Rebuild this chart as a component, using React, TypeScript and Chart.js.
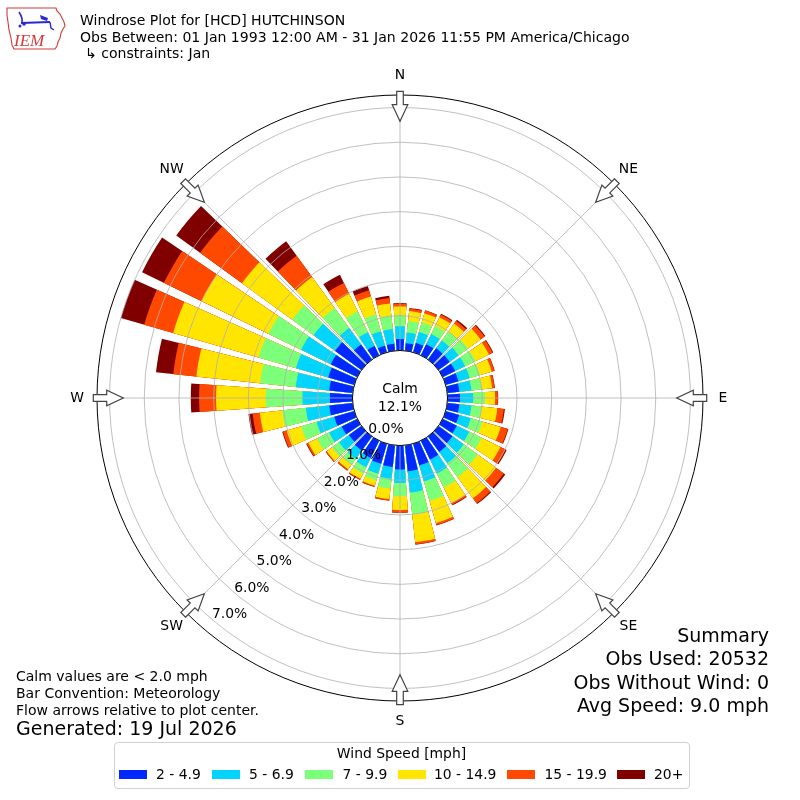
import React, { useEffect, useRef } from "react";
import { Chart, registerables } from "chart.js";

Chart.register(...registerables);

// ---------------- data ----------------
const DIRECTIONS_DEG = [0, 10, 20, 30, 40, 50, 60, 70, 80, 90, 100, 110, 120, 130, 140, 150, 160, 170, 180, 190, 200, 210, 220, 230, 240, 250, 260, 270, 280, 290, 300, 310, 320, 330, 340, 350];

const SPEED_BINS = ["2 - 4.9", "5 - 6.9", "7 - 9.9", "10 - 14.9", "15 - 19.9", "20+"];
const BIN_COLORS = ["#0028ff", "#00d4ff", "#7cff79", "#ffe500", "#ff4800", "#800000"];

// frequency [%] per direction for every speed bin
const PCT_2_5 = [0.33, 0.22, 0.28, 0.35, 0.40, 0.40, 0.40, 0.38, 0.35, 0.36, 0.35, 0.40, 0.45, 0.50, 0.55, 0.60, 0.65, 0.75, 0.69, 0.63, 0.60, 0.55, 0.50, 0.45, 0.50, 0.60, 0.68, 0.65, 0.68, 0.78, 0.85, 0.94, 0.54, 0.30, 0.20, 0.20];
const PCT_5_7 = [0.37, 0.31, 0.33, 0.33, 0.28, 0.32, 0.32, 0.34, 0.35, 0.38, 0.35, 0.35, 0.40, 0.40, 0.40, 0.45, 0.48, 0.62, 0.39, 0.34, 0.30, 0.30, 0.30, 0.35, 0.40, 0.53, 0.68, 0.79, 0.97, 0.97, 0.95, 0.77, 0.58, 0.44, 0.43, 0.43];
const PCT_7_10 = [0.32, 0.33, 0.29, 0.26, 0.32, 0.33, 0.33, 0.31, 0.30, 0.34, 0.30, 0.35, 0.40, 0.50, 0.50, 0.45, 0.58, 0.63, 0.38, 0.29, 0.20, 0.20, 0.20, 0.25, 0.39, 0.46, 0.68, 1.06, 1.03, 1.12, 1.05, 0.76, 0.72, 0.67, 0.51, 0.39];
const PCT_10_15 = [0.25, 0.29, 0.27, 0.28, 0.28, 0.45, 0.43, 0.35, 0.30, 0.29, 0.45, 0.55, 0.60, 0.65, 0.75, 0.50, 0.67, 0.81, 0.40, 0.30, 0.16, 0.17, 0.17, 0.19, 0.28, 0.44, 0.65, 1.43, 1.85, 2.56, 2.15, 1.79, 1.10, 0.56, 0.53, 0.35];
const PCT_15_20 = [0.08, 0.07, 0.08, 0.09, 0.10, 0.14, 0.12, 0.08, 0.07, 0.08, 0.19, 0.21, 0.17, 0.28, 0.18, 0.05, 0.06, 0.06, 0.07, 0.04, 0.03, 0.03, 0.04, 0.03, 0.05, 0.11, 0.21, 0.49, 0.67, 0.87, 1.20, 1.49, 0.76, 0.35, 0.19, 0.16];
const PCT_20_UP = [0.02, 0.02, 0.01, 0.02, 0.04, 0.03, 0.02, 0.01, 0.01, 0.01, 0.03, 0.02, 0.03, 0.05, 0.03, 0.02, 0.01, 0.01, 0.01, 0.01, 0.01, 0.01, 0.01, 0.01, 0.02, 0.02, 0.12, 0.24, 0.50, 0.70, 0.70, 0.85, 0.51, 0.26, 0.13, 0.06];

const CALM_PCT = 12.1;
const RING_TICKS = [0, 1, 2, 3, 4, 5, 6, 7];
const COMPASS_LABELS = ["N", "NE", "E", "SE", "S", "SW", "W", "NW"];
const COMPASS_DEG = [0, 45, 90, 135, 180, 225, 270, 315];

const TITLE_LINES = [
  "Windrose Plot for [HCD] HUTCHINSON",
  "Obs Between: 01 Jan 1993 12:00 AM - 31 Jan 2026 11:55 PM America/Chicago",
  "\u21b3 constraints: Jan",
];
const NOTE_LINES = ["Calm values are < 2.0 mph", "Bar Convention: Meteorology", "Flow arrows relative to plot center."];
const GENERATED = "Generated: 19 Jul 2026";
const SUMMARY_LINES = ["Summary", "Obs Used: 20532", "Obs Without Wind: 0", "Avg Speed: 9.0 mph"];
const LEGEND_TITLE = "Wind Speed [mph]";

// ---------------- geometry / style ----------------
const R_MIN = -1.37;
const R_MAX = 7.362;
const BAR_DEG = 8;
const FONT = '"DejaVu Sans", sans-serif';
const GRID_COLOR = "#b0b0b0";

const toXY = (cx: number, cy: number, r: number, deg: number) => {
  const t = (deg * Math.PI) / 180;
  return [cx + r * Math.sin(t), cy - r * Math.cos(t)];
};

const decorPlugin = {
  id: "windroseDecor",
  afterDatasetsDraw(chart: any) {
    const s = chart.scales.r;
    const ctx = chart.ctx;
    const r0 = s.getDistanceFromCenterForValue(0);
    const r1 = s.drawingArea;
    ctx.save();
    ctx.strokeStyle = GRID_COLOR;
    ctx.lineWidth = 0.8;
    COMPASS_DEG.forEach((a) => {
      const [x0, y0] = toXY(s.xCenter, s.yCenter, r0, a);
      const [x1, y1] = toXY(s.xCenter, s.yCenter, r1, a);
      ctx.beginPath();
      ctx.moveTo(x0, y0);
      ctx.lineTo(x1, y1);
      ctx.stroke();
    });
    ctx.restore();
  },
  afterDraw(chart: any) {
    const s = chart.scales.r;
    const ctx = chart.ctx;
    const cx = s.xCenter;
    const cy = s.yCenter;
    const rOut = s.drawingArea;
    const r0 = s.getDistanceFromCenterForValue(0);
    ctx.save();
    // outer frame
    ctx.strokeStyle = "#000";
    ctx.lineWidth = 1;
    ctx.beginPath();
    ctx.arc(cx, cy, rOut, 0, Math.PI * 2);
    ctx.stroke();
    // flow arrows
    const pts = [
      [rOut + 3.7, -3.3], [rOut - 9.7, -3.3], [rOut - 9.7, -7.8], [rOut - 26.3, 0],
      [rOut - 9.7, 7.8], [rOut - 9.7, 3.3], [rOut + 3.7, 3.3],
    ];
    COMPASS_DEG.forEach((a) => {
      const t = (a * Math.PI) / 180;
      const ux = Math.sin(t), uy = -Math.cos(t);
      const vx = Math.cos(t), vy = Math.sin(t);
      ctx.beginPath();
      pts.forEach(([r, w], i) => {
        const x = cx + ux * r + vx * w;
        const y = cy + uy * r + vy * w;
        if (i === 0) ctx.moveTo(x, y);
        else ctx.lineTo(x, y);
      });
      ctx.closePath();
      ctx.fillStyle = "#ffffff";
      ctx.fill();
      ctx.strokeStyle = "#444";
      ctx.lineWidth = 1.2;
      ctx.stroke();
    });
    // compass labels
    ctx.fillStyle = "#000";
    ctx.font = `13.9px ${FONT}`;
    ctx.textAlign = "center";
    ctx.textBaseline = "middle";
    COMPASS_LABELS.forEach((lab, i) => {
      const [x, y] = toXY(cx, cy, rOut + 20, COMPASS_DEG[i]);
      ctx.fillText(lab, x, y);
    });
    // calm hole
    ctx.beginPath();
    ctx.arc(cx, cy, r0, 0, Math.PI * 2);
    ctx.fillStyle = "#fff";
    ctx.fill();
    ctx.strokeStyle = "#000";
    ctx.lineWidth = 1;
    ctx.stroke();
    ctx.fillStyle = "#000";
    ctx.font = `13.9px ${FONT}`;
    ctx.fillText("Calm", cx, cy - 8.5);
    ctx.fillText(`${CALM_PCT.toFixed(1)}%`, cx, cy + 9.5);
    // ring labels
    RING_TICKS.forEach((v) => {
      const r = s.getDistanceFromCenterForValue(v);
      const [x, y] = toXY(cx, cy, r, 220.1);
      ctx.fillText(`${v.toFixed(1)}%`, x + 16.6, y - 5.3);
    });
    ctx.restore();
  },
};

function Logo() {
  return (
    <svg width={72} height={56} style={{ position: "absolute", left: 0, top: 0 }}>
      <path
        d="M7,8 L56,8 L57,11 L60,14 L62,18 L64,22 L65,26 L63,29 L61,33 L60,38 L58,42 L57,46 L55,49 L14,49 L12,45 L11,38 L9,30 L8,22 L7,15 Z"
        fill="none"
        stroke="#d23a3a"
        strokeWidth={1.1}
      />
      <path d="M19,12 C21,15 23,18 22,23" fill="none" stroke="#2a2ad0" strokeWidth={1.6} />
      <line x1={21} y1={23} x2={50} y2={22} stroke="#2a2ad0" strokeWidth={2} />
      <path d="M40,15 L48,18 L47,21 L41,19 Z" fill="#2a2ad0" />
      <circle cx={24} cy={24} r={1.8} fill="#2a2ad0" />
      <circle cx={20} cy={26} r={1.5} fill="#2a2ad0" />
      <path d="M50,22 L51,28 L54,30" fill="none" stroke="#2a2ad0" strokeWidth={1.4} />
      <text x={14} y={46} fill="#d23a3a" fontFamily='"Liberation Serif", serif' fontStyle="italic" fontSize={17}>
        IEM
      </text>
    </svg>
  );
}

export default function App() {
  const ref = useRef<HTMLCanvasElement>(null);

  useEffect(() => {
    const canvas = ref.current;
    if (!canvas) return;
    const bins = [PCT_2_5, PCT_5_7, PCT_7_10, PCT_10_15, PCT_15_20, PCT_20_UP];
    const cumulative = bins.map((_, k) =>
      DIRECTIONS_DEG.map((_, i) => bins.slice(0, k + 1).reduce((sum, b) => sum + b[i], 0))
    );
    const labels = DIRECTIONS_DEG.flatMap((d) => [`${d}\u00b0`, ""]);
    const datasets = cumulative.map((vals, k) => ({
      label: SPEED_BINS[k],
      data: vals.flatMap((v) => [v, R_MIN]),
      backgroundColor: BIN_COLORS[k],
      borderWidth: 0,
      angle: (c: any) => (c.dataIndex % 2 === 0 ? BAR_DEG : 10 - BAR_DEG),
    }));

    const chart = new Chart(canvas, {
      type: "polarArea",
      data: { labels, datasets } as any,
      options: {
        responsive: false,
        maintainAspectRatio: false,
        animation: false,
        events: [],
        layout: { padding: { left: 97, right: 97, top: 95, bottom: 99 } },
        plugins: { legend: { display: false }, tooltip: { enabled: false }, title: { display: false } },
        scales: {
          r: {
            type: "radialLinear",
            min: R_MIN,
            max: R_MAX,
            startAngle: -BAR_DEG / 2,
            beginAtZero: false,
            afterBuildTicks: (axis: any) => {
              axis.ticks = RING_TICKS.map((v) => ({ value: v }));
            },
            ticks: { display: false },
            angleLines: { display: false },
            pointLabels: { display: false },
            grid: { circular: true, color: GRID_COLOR, lineWidth: 0.8, z: 1 },
          },
        },
      } as any,
      plugins: [decorPlugin],
    });
    return () => chart.destroy();
  }, []);

  const legendSwatchX = [119, 211.5, 305, 397.5, 506.5, 617];
  const legendTextX = [156, 249, 342.5, 434, 544.5, 654];

  return (
    <div style={{ position: "absolute", left: 0, top: 0, width: 800, height: 800, background: "#fff", fontFamily: FONT, color: "#000" }}>
      <canvas ref={ref} width={800} height={800} style={{ position: "absolute", left: 0, top: 0, width: 800, height: 800 }} />
      <Logo />
      <div style={{ position: "absolute", left: 80, top: 12, fontSize: 14.05, lineHeight: "16.5px", whiteSpace: "pre" }}>
        <div>{TITLE_LINES[0]}</div>
        <div>{TITLE_LINES[1]}</div>
        <div style={{ paddingLeft: 5 }}>{TITLE_LINES[2]}</div>
      </div>
      <div style={{ position: "absolute", left: 16, top: 668.4, fontSize: 14, lineHeight: "16.6px", whiteSpace: "pre" }}>
        {NOTE_LINES.map((t) => (
          <div key={t}>{t}</div>
        ))}
      </div>
      <div style={{ position: "absolute", left: 16, top: 717.3, fontSize: 19, lineHeight: "22px", whiteSpace: "pre" }}>{GENERATED}</div>
      <div style={{ position: "absolute", right: 31, top: 624, fontSize: 19, lineHeight: "23.4px", textAlign: "right", whiteSpace: "pre" }}>
        {SUMMARY_LINES.map((t) => (
          <div key={t}>{t}</div>
        ))}
      </div>
      <div style={{ position: "absolute", left: 113.5, top: 741.5, width: 576, height: 47, border: "1px solid #d0d0d0", borderRadius: 4, boxSizing: "border-box" }} />
      <div style={{ position: "absolute", left: 113.5, width: 576, top: 744, fontSize: 13.9, lineHeight: "18px", textAlign: "center" }}>{LEGEND_TITLE}</div>
      {SPEED_BINS.map((b, i) => (
        <React.Fragment key={b}>
          <div style={{ position: "absolute", left: legendSwatchX[i], top: 770, width: 28, height: 9, background: BIN_COLORS[i] }} />
          <div style={{ position: "absolute", left: legendTextX[i], top: 765.3, fontSize: 13.9, lineHeight: "18px", whiteSpace: "pre" }}>{b}</div>
        </React.Fragment>
      ))}
    </div>
  );
}
